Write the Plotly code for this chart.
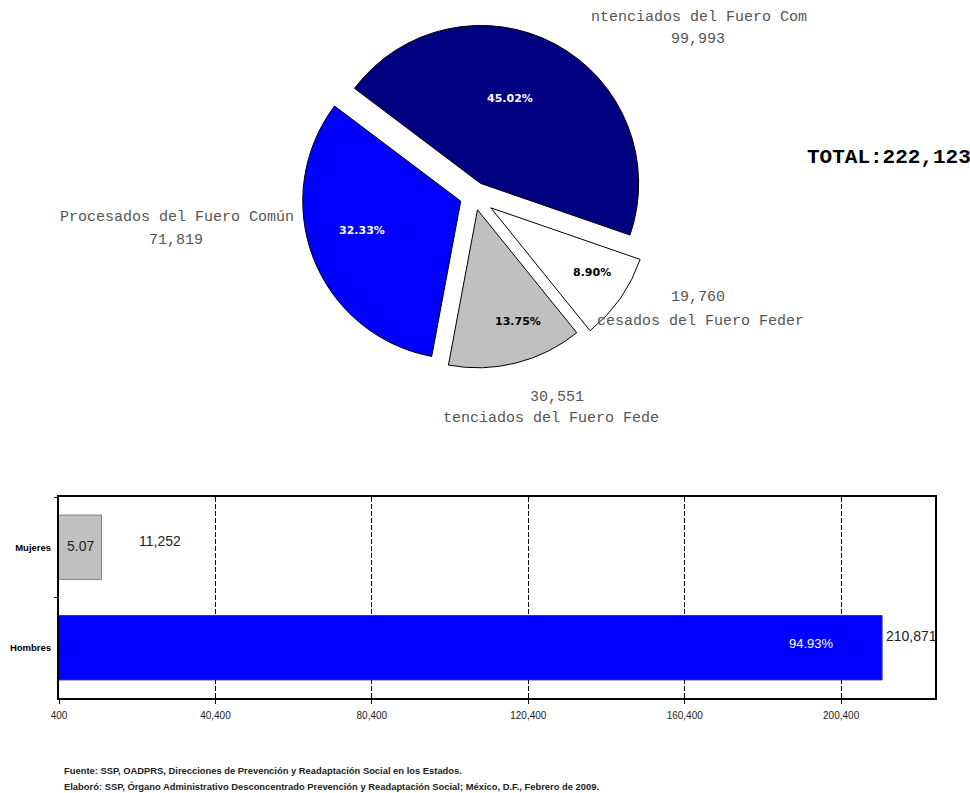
import math
import plotly.graph_objects as go

W, H = 970, 793

# ---- data ----
pie_labels = ["Sentenciados del Fuero Común", "Procesados del Fuero Federal",
              "Sentenciados del Fuero Federal", "Procesados del Fuero Común"]
pie_values = [99993, 19760, 30551, 71819]
pie_colors = ["#000080", "#ffffff", "#c0c0c0", "#0000ff"]
pie_text_colors = ["#ffffff", "#000000", "#000000", "#ffffff"]
# visible (clipped) outside captions as they appear in the picture
pie_captions = ["ntenciados del Fuero Com", "cesados del Fuero Feder",
                "tenciados del Fuero Fede", "Procesados del Fuero Común"]
total_label = "TOTAL:222,123"

bar_categories = ["Hombres", "Mujeres"]
bar_values = [210871, 11252]
bar_pct = ["94.93%", "5.07"]
bar_colors = ["#0000ff", "#c0c0c0"]
bar_line_colors = ["#3030a0", "#808080"]
x_tickvals = [400, 40400, 80400, 120400, 160400, 200400]
x_ticktext = ["400", "40,400", "80,400", "120,400", "160,400", "200,400"]

footer = ["Fuente: SSP, OADPRS, Direcciones de Prevención y Readaptación Social en los Estados.",
          "Elaboró: SSP, Órgano Administrativo Desconcentrado Prevención y Readaptación Social; México, D.F., Febrero de 2009."]

# ---- styling ----
pie_pull = [0.09, 0.13, 0.09, 0.09]
label_r = [0.57, 0.76, 0.75, 0.65]   # radial placement of % labels (fraction of radius)
label_dang = [8, 2, 5, -4]           # angular nudge of % labels (degrees)
ROT = -53                             # compass degrees of first slice start


def px(x):
    return x / W


def py(y):
    return 1 - y / H


fig = go.Figure()

# ---- pie ----
cx, cy, r = 474, 196, 158
half = r * (1 + max(pie_pull))
fig.add_trace(go.Pie(
    labels=pie_labels, values=pie_values, sort=False,
    direction="clockwise", rotation=ROT,
    pull=pie_pull,
    marker=dict(colors=pie_colors, line=dict(color="#000000", width=1)),
    textinfo="none",
    showlegend=False,
    domain=dict(x=[px(cx - half), px(cx + half)], y=[py(cy + half), py(cy - half)]),
    hoverinfo="label+value+percent",
))

ann = []
# percentage labels placed along each slice's mid angle
total = sum(pie_values)
start = 90 - ROT  # math angle
acc = 0
for v, col, lr, pl, da in zip(pie_values, pie_text_colors, label_r, pie_pull, label_dang):
    mid = math.radians(start - 360 * (acc + v / 2) / total + da)
    acc += v
    d = r * (lr + pl)
    tx, ty = cx + d * math.cos(mid), cy - d * math.sin(mid)
    ann.append(dict(x=px(tx), y=py(ty), xref="paper", yref="paper",
                    text=f"{100 * v / total:.2f}%", showarrow=False,
                    xanchor="center", yanchor="middle",
                    font=dict(family="Verdana, DejaVu Sans, sans-serif", size=11,
                              color=col, weight="bold")))

# ---- bar ----
fig.add_trace(go.Bar(
    y=bar_categories, x=bar_values, orientation="h",
    marker=dict(color=bar_colors, line=dict(color=bar_line_colors, width=1)),
    width=0.64, showlegend=False,
))

cap_font = dict(family="Liberation Mono, Courier New, monospace", size=15, color="#555555")
cap_pos = [  # (caption center x, caption y, value center x, value y)
    (699, 18, 698, 39),
    (700, 321, 698, 297),
    (551, 418, 557, 397),
    (177, 218, 176, 240),
]
for cap, val, (capx, capy, vx, vy) in zip(pie_captions, pie_values, cap_pos):
    ann.append(dict(x=px(capx), y=py(capy), xref="paper", yref="paper", text=cap,
                    showarrow=False, font=cap_font, xanchor="center", yanchor="middle"))
    ann.append(dict(x=px(vx), y=py(vy), xref="paper", yref="paper", text=f"{val:,}",
                    showarrow=False, font=cap_font, xanchor="center", yanchor="middle"))

ann.append(dict(x=px(805), y=py(157), xref="paper", yref="paper", text=total_label,
                showarrow=False, xanchor="left", yanchor="middle",
                font=dict(family="Liberation Mono, Courier New, monospace", size=21,
                          color="#000000", weight="bold")))

# bar value labels
ann.append(dict(x=bar_values[0], y="Hombres", xref="x", yref="y", text=bar_pct[0],
                showarrow=False, xanchor="right", xshift=-46, yshift=4,
                font=dict(family="Arial, Liberation Sans", size=13, color="#ffffff")))
ann.append(dict(x=bar_values[0], y="Hombres", xref="x", yref="y", text=f"{bar_values[0]:,}",
                showarrow=False, xanchor="left", xshift=2, yshift=12,
                font=dict(family="Arial, Liberation Sans", size=14, color="#222222")))
ann.append(dict(x=bar_values[1], y="Mujeres", xref="x", yref="y", text=bar_pct[1],
                showarrow=False, xanchor="center", xshift=-21, yshift=1,
                font=dict(family="Arial, Liberation Sans", size=14, color="#222222")))
ann.append(dict(x=bar_values[1], y="Mujeres", xref="x", yref="y", text=f"{bar_values[1]:,}",
                showarrow=False, xanchor="left", xshift=36, yshift=6,
                font=dict(family="Arial, Liberation Sans", size=14, color="#222222")))

# footer
for i, line in enumerate(footer):
    ann.append(dict(x=px(62), y=py(770 + 16 * i), xref="paper", yref="paper", text=line,
                    showarrow=False, xanchor="left", yanchor="middle",
                    font=dict(family="Arial, Liberation Sans", size=9.4, color="#222222",
                              weight="bold")))

fig.update_layout(
    width=W, height=H, margin=dict(l=0, r=0, t=0, b=0, autoexpand=False),
    paper_bgcolor="#ffffff", plot_bgcolor="#ffffff",
    annotations=ann,
    xaxis=dict(domain=[px(59), px(935)], range=[400, 224400],
               tickvals=x_tickvals, ticktext=x_ticktext,
               showgrid=True, gridcolor="#000000", griddash="5px,2px", gridwidth=1.3,
               showline=True, linecolor="#000000", linewidth=2, mirror=True,
               ticks="outside", ticklen=4, tickcolor="#000000",
               ticklabelstandoff=3,
               tickfont=dict(family="Arial, Liberation Sans", size=10, color="#222222"),
               zeroline=False, fixedrange=True, automargin=False),
    yaxis=dict(domain=[py(698), py(497)],
               categoryorder="array", categoryarray=bar_categories,
               showline=True, linecolor="#000000", linewidth=2, mirror=True,
               ticks="outside", ticklen=3, tickcolor="#000000", tickson="boundaries",
               showgrid=False, ticklabelstandoff=4,
               tickfont=dict(family="Arial, Liberation Sans", size=9.5, color="#000000",
                             weight="bold"),
               fixedrange=True, automargin=False),
)

fig.write_html("out.html", config={"displayModeBar": False},
               post_script="document.body.style.margin='0';document.body.style.overflow='hidden';")
